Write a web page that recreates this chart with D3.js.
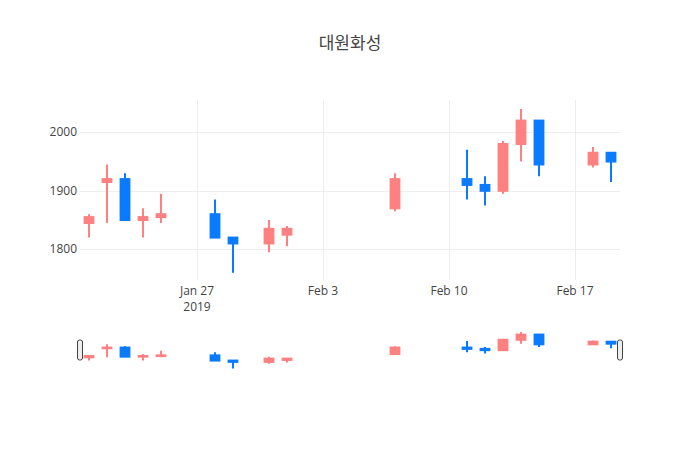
<!DOCTYPE html>
<html>
<head>
<meta charset="utf-8">
<script src="https://cdn.jsdelivr.net/npm/d3@7"></script>
<style>
  body { margin: 0; background: #fff; }
  text { font-family: "Open Sans", "Noto Sans CJK KR", sans-serif; fill: #444; }
</style>
</head>
<body>
<div id="chart"></div>
<script>
// Data
const dates = ["2019-01-21", "2019-01-22", "2019-01-23", "2019-01-24", "2019-01-25",
  "2019-01-28", "2019-01-29", "2019-01-31", "2019-02-01", "2019-02-07",
  "2019-02-11", "2019-02-12", "2019-02-13", "2019-02-14", "2019-02-15",
  "2019-02-18", "2019-02-19"];
const openVals  = [1845, 1915, 1920, 1850, 1855, 1860, 1820, 1810, 1825, 1870, 1920, 1910, 1900, 1980, 2020, 1945, 1965];
const highVals  = [1860, 1945, 1930, 1870, 1895, 1885, 1820, 1850, 1840, 1930, 1970, 1925, 1985, 2040, 2020, 1975, 1965];
const lowVals   = [1820, 1845, 1850, 1820, 1845, 1820, 1760, 1795, 1805, 1865, 1885, 1875, 1895, 1950, 1925, 1940, 1915];
const closeVals = [1855, 1920, 1850, 1855, 1860, 1820, 1810, 1835, 1835, 1920, 1910, 1900, 1980, 2020, 1945, 1965, 1950];
const yTicks = [1800, 1900, 2000];
const title = "대원화성";

const incColor = "#ff8080";
const decColor = "#0a7bff";

// Chart dimensions
const width = 700, height = 450;
const margin = { left: 80, right: 80, top: 100 };
const plotBottom = 280;
const sliderTop = 330, sliderBottom = 370;

const parse = d3.timeParse("%Y-%m-%d");
const candles = dates.map((d, i) => ({
  date: parse(d), open: openVals[i], high: highVals[i], low: lowVals[i], close: closeVals[i],
}));

const halfDay = 12 * 3600 * 1000;
const x = d3.scaleTime()
  .domain([new Date(+candles[0].date - halfDay), new Date(+candles[candles.length - 1].date + halfDay)])
  .range([margin.left, width - margin.right]);

const yDomain = [1747.5, 2055.2];
const y = d3.scaleLinear().domain(yDomain).range([plotBottom, margin.top]);
const ySlider = d3.scaleLinear().domain(yDomain).range([sliderBottom, sliderTop]);

const dayPx = x(new Date(2019, 0, 22)) - x(new Date(2019, 0, 21));
const bodyW = dayPx * 0.6 - 2; // plus the 2px outline

const svg = d3.select("#chart").append("svg")
  .attr("width", width).attr("height", height);

// Title
svg.append("text")
  .attr("x", width / 2).attr("y", 49)
  .attr("text-anchor", "middle")
  .style("font-size", "17px")
  .text(title);

// Gridlines
const xTicks = x.ticks(d3.timeWeek.every(1));
svg.append("g").selectAll("line").data(xTicks).join("line")
  .attr("x1", d => Math.round(x(d)) + 0.5).attr("x2", d => Math.round(x(d)) + 0.5)
  .attr("y1", margin.top).attr("y2", plotBottom)
  .attr("stroke", "#eee").attr("stroke-width", 1);
svg.append("g").selectAll("line").data(yTicks).join("line")
  .attr("x1", margin.left).attr("x2", width - margin.right)
  .attr("y1", d => Math.round(y(d)) + 0.5).attr("y2", d => Math.round(y(d)) + 0.5)
  .attr("stroke", "#eee").attr("stroke-width", 1);

// Y tick labels
svg.append("g").selectAll("text").data(yTicks).join("text")
  .attr("x", margin.left - 3).attr("y", d => y(d))
  .attr("dy", "0.35em")
  .attr("text-anchor", "end")
  .style("font-size", "12px")
  .text(d => d);

// X tick labels (year on the first one)
const fmt = d3.timeFormat("%b %-d");
const xLab = svg.append("g").selectAll("text").data(xTicks).join("text")
  .attr("x", d => x(d)).attr("y", 295)
  .attr("text-anchor", "middle")
  .style("font-size", "12px");
xLab.append("tspan").attr("x", d => x(d)).text(d => fmt(d));
xLab.filter((d, i) => i === 0).append("tspan")
  .attr("x", d => x(d)).attr("dy", 15.6)
  .text(d => d.getFullYear());

// Candles drawer
function drawCandles(g, yS) {
  const col = d => d.close >= d.open ? incColor : decColor;
  const c = g.selectAll("g").data(candles).join("g");
  c.append("line")
    .attr("x1", d => x(d.date)).attr("x2", d => x(d.date))
    .attr("y1", d => yS(d.high)).attr("y2", d => yS(d.low))
    .attr("stroke", col)
    .attr("stroke-width", 2);
  c.append("rect")
    .attr("x", d => x(d.date) - bodyW / 2)
    .attr("width", bodyW)
    .attr("y", d => yS(Math.max(d.open, d.close)))
    .attr("height", d => Math.abs(yS(d.open) - yS(d.close)))
    .attr("fill", col)
    .attr("stroke", col)
    .attr("stroke-width", 2);
}

drawCandles(svg.append("g"), y);

// Range slider
const slider = svg.append("g");
drawCandles(slider.append("g"), ySlider);
const sh = sliderBottom - sliderTop;
slider.selectAll("rect.handle").data([margin.left, width - margin.right]).join("rect")
  .attr("class", "handle")
  .attr("x", d => d - 2.5).attr("y", sliderTop + Math.round(sh / 4))
  .attr("width", 5).attr("height", Math.round(sh / 2))
  .attr("rx", 2).attr("ry", 2)
  .attr("fill", "#eee").attr("stroke", "#444").attr("stroke-width", 1);
</script>
</body>
</html>
